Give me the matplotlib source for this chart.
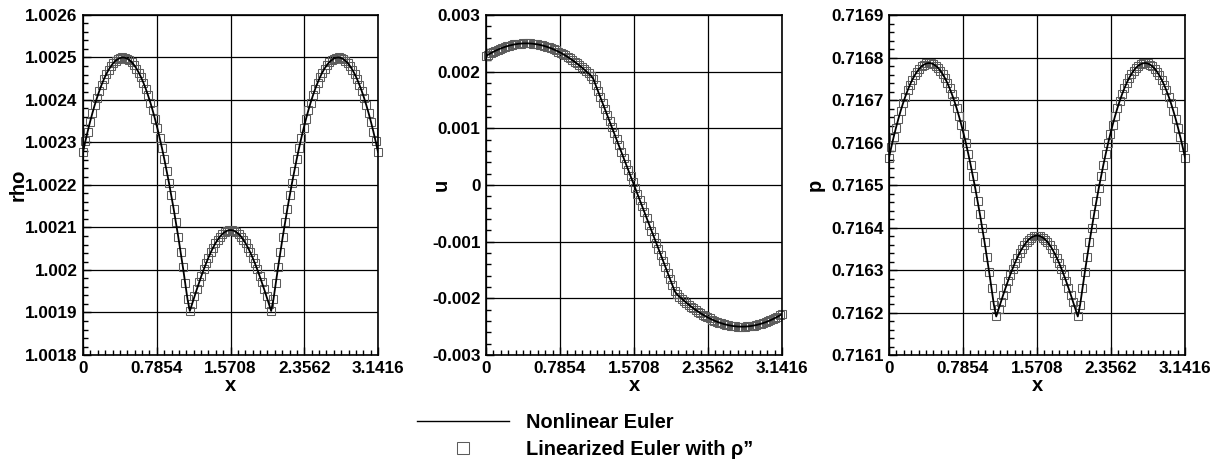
import numpy as np
import matplotlib
matplotlib.use("Agg")
import matplotlib.pyplot as plt
from matplotlib.ticker import FixedLocator, AutoMinorLocator

plt.rcParams['font.family'] = ['Liberation Sans', 'DejaVu Sans']
plt.rcParams['font.weight'] = 'bold'

# ---------------- data ----------------
x_start, x_end = 0.0, 3.1416

rho = [
    1.0022776, 1.0023024, 1.0023258, 1.0023478, 1.0023683, 1.0023874, 1.0024050, 1.0024211,
    1.0024358, 1.0024490, 1.0024607, 1.0024708, 1.0024795, 1.0024866, 1.0024923, 1.0024964,
    1.0024989, 1.0025000, 1.0024995, 1.0024975, 1.0024939, 1.0024888, 1.0024823, 1.0024741,
    1.0024645, 1.0024534, 1.0024407, 1.0024266, 1.0024110, 1.0023939, 1.0023753, 1.0023553,
    1.0023339, 1.0023110, 1.0022867, 1.0022610, 1.0022339, 1.0022055, 1.0021757, 1.0021446,
    1.0021121, 1.0020784, 1.0020434, 1.0020072, 1.0019697, 1.0019310, 1.0019037, 1.0019209,
    1.0019379, 1.0019546, 1.0019708, 1.0019866, 1.0020016, 1.0020158, 1.0020292, 1.0020415,
    1.0020527, 1.0020627, 1.0020714, 1.0020788, 1.0020847, 1.0020893, 1.0020923, 1.0020938,
    1.0020938, 1.0020923, 1.0020893, 1.0020847, 1.0020788, 1.0020714, 1.0020627, 1.0020527,
    1.0020415, 1.0020292, 1.0020158, 1.0020016, 1.0019866, 1.0019708, 1.0019546, 1.0019379,
    1.0019209, 1.0019037, 1.0019310, 1.0019697, 1.0020072, 1.0020434, 1.0020784, 1.0021121,
    1.0021446, 1.0021757, 1.0022055, 1.0022339, 1.0022610, 1.0022867, 1.0023110, 1.0023339,
    1.0023553, 1.0023753, 1.0023939, 1.0024110, 1.0024266, 1.0024407, 1.0024534, 1.0024645,
    1.0024741, 1.0024823, 1.0024888, 1.0024939, 1.0024975, 1.0024995, 1.0025000, 1.0024989,
    1.0024964, 1.0024923, 1.0024866, 1.0024795, 1.0024708, 1.0024607, 1.0024490, 1.0024358,
    1.0024211, 1.0024050, 1.0023874, 1.0023683, 1.0023478, 1.0023258, 1.0023024, 1.0022776,
]

u = [
    0.0022776, 0.0023024, 0.0023258, 0.0023478, 0.0023683, 0.0023874, 0.0024050, 0.0024211,
    0.0024358, 0.0024490, 0.0024607, 0.0024708, 0.0024795, 0.0024866, 0.0024923, 0.0024964,
    0.0024989, 0.0025000, 0.0024995, 0.0024975, 0.0024939, 0.0024888, 0.0024823, 0.0024741,
    0.0024645, 0.0024534, 0.0024407, 0.0024266, 0.0024110, 0.0023939, 0.0023753, 0.0023553,
    0.0023339, 0.0023110, 0.0022867, 0.0022610, 0.0022339, 0.0022055, 0.0021757, 0.0021446,
    0.0021121, 0.0020784, 0.0020434, 0.0020072, 0.0019697, 0.0019310, 0.0018769, 0.0017696,
    0.0016624, 0.0015551, 0.0014479, 0.0013406, 0.0012334, 0.0011261, 0.0010188, 0.0009116,
    0.0008043, 0.0006971, 0.0005898, 0.0004825, 0.0003753, 0.0002680, 0.0001608, 0.0000535,
    -0.0000535, -0.0001608, -0.0002680, -0.0003753, -0.0004825, -0.0005898, -0.0006971, -0.0008043,
    -0.0009116, -0.0010188, -0.0011261, -0.0012334, -0.0013406, -0.0014479, -0.0015551, -0.0016624,
    -0.0017696, -0.0018769, -0.0019310, -0.0019697, -0.0020072, -0.0020434, -0.0020784, -0.0021121,
    -0.0021446, -0.0021757, -0.0022055, -0.0022339, -0.0022610, -0.0022867, -0.0023110, -0.0023339,
    -0.0023553, -0.0023753, -0.0023939, -0.0024110, -0.0024266, -0.0024407, -0.0024534, -0.0024645,
    -0.0024741, -0.0024823, -0.0024888, -0.0024939, -0.0024975, -0.0024995, -0.0025000, -0.0024989,
    -0.0024964, -0.0024923, -0.0024866, -0.0024795, -0.0024708, -0.0024607, -0.0024490, -0.0024358,
    -0.0024211, -0.0024050, -0.0023874, -0.0023683, -0.0023478, -0.0023258, -0.0023024, -0.0022776,
]

p = [
    0.7165646, 0.7165894, 0.7166128, 0.7166348, 0.7166553, 0.7166744, 0.7166920, 0.7167081,
    0.7167228, 0.7167360, 0.7167477, 0.7167578, 0.7167665, 0.7167736, 0.7167793, 0.7167834,
    0.7167859, 0.7167870, 0.7167865, 0.7167845, 0.7167809, 0.7167758, 0.7167693, 0.7167611,
    0.7167515, 0.7167404, 0.7167277, 0.7167136, 0.7166980, 0.7166809, 0.7166623, 0.7166423,
    0.7166209, 0.7165980, 0.7165737, 0.7165480, 0.7165209, 0.7164925, 0.7164627, 0.7164316,
    0.7163991, 0.7163654, 0.7163304, 0.7162942, 0.7162567, 0.7162180, 0.7161907, 0.7162079,
    0.7162249, 0.7162416, 0.7162578, 0.7162736, 0.7162886, 0.7163028, 0.7163162, 0.7163285,
    0.7163397, 0.7163497, 0.7163584, 0.7163658, 0.7163717, 0.7163763, 0.7163793, 0.7163808,
    0.7163808, 0.7163793, 0.7163763, 0.7163717, 0.7163658, 0.7163584, 0.7163497, 0.7163397,
    0.7163285, 0.7163162, 0.7163028, 0.7162886, 0.7162736, 0.7162578, 0.7162416, 0.7162249,
    0.7162079, 0.7161907, 0.7162180, 0.7162567, 0.7162942, 0.7163304, 0.7163654, 0.7163991,
    0.7164316, 0.7164627, 0.7164925, 0.7165209, 0.7165480, 0.7165737, 0.7165980, 0.7166209,
    0.7166423, 0.7166623, 0.7166809, 0.7166980, 0.7167136, 0.7167277, 0.7167404, 0.7167515,
    0.7167611, 0.7167693, 0.7167758, 0.7167809, 0.7167845, 0.7167865, 0.7167870, 0.7167859,
    0.7167834, 0.7167793, 0.7167736, 0.7167665, 0.7167578, 0.7167477, 0.7167360, 0.7167228,
    0.7167081, 0.7166920, 0.7166744, 0.7166553, 0.7166348, 0.7166128, 0.7165894, 0.7165646,
]

x_ticks = [0.0, 0.7854, 1.5708, 2.3562, 3.1416]
x_tick_labels = ['0', '0.7854', '1.5708', '2.3562', '3.1416']

rho_ticks = [1.0018, 1.0019, 1.0020, 1.0021, 1.0022, 1.0023, 1.0024, 1.0025, 1.0026]
rho_tick_labels = ['1.0018', '1.0019', '1.002', '1.0021', '1.0022', '1.0023', '1.0024', '1.0025', '1.0026']
u_ticks = [-0.003, -0.002, -0.001, 0.0, 0.001, 0.002, 0.003]
u_tick_labels = ['-0.003', '-0.002', '-0.001', '0', '0.001', '0.002', '0.003']
p_ticks = [0.7161, 0.7162, 0.7163, 0.7164, 0.7165, 0.7166, 0.7167, 0.7168, 0.7169]
p_tick_labels = ['0.7161', '0.7162', '0.7163', '0.7164', '0.7165', '0.7166', '0.7167', '0.7168', '0.7169']

series_names = ['Nonlinear Euler', 'Linearized Euler with \u03c1\u201d']
y_names = ['rho', 'u', 'p']

# ---------------- figure ----------------
W, H = 1224, 459
fig = plt.figure(figsize=(W / 100, H / 100), dpi=100)

panels = [
    (83, 295, rho, rho_ticks, rho_tick_labels, y_names[0], -0.22),
    (486, 296, u, u_ticks, u_tick_labels, y_names[1], -0.150),
    (889, 296, p, p_ticks, p_tick_labels, y_names[2], -0.250),
]
top_px, bot_px = 15, 355

xs = np.linspace(x_start, np.pi, len(rho))

line_handle = None
marker_handle = None
for left, width, yv, yt, ytl, yname, lab_x in panels:
    ax = fig.add_axes([left / W, 1 - bot_px / H, width / W, (bot_px - top_px) / H])
    mk, = ax.plot(xs, yv, linestyle='none', marker='s', markersize=5.2,
                  markerfacecolor='none', markeredgecolor='#5c5c5c',
                  markeredgewidth=0.75, zorder=2, clip_on=False)
    ln, = ax.plot(xs, yv, color='black', linewidth=1.3, zorder=3)
    line_handle, marker_handle = ln, mk
    ax.set_xlim(x_start, x_end)
    ax.set_ylim(yt[0], yt[-1])
    ax.xaxis.set_major_locator(FixedLocator(x_ticks))
    ax.set_xticklabels(x_tick_labels)
    ax.yaxis.set_major_locator(FixedLocator(yt))
    ax.set_yticklabels(ytl)
    ax.xaxis.set_minor_locator(AutoMinorLocator(10))
    ax.yaxis.set_minor_locator(AutoMinorLocator(5))
    ax.tick_params(which='both', direction='in', top=False, right=False,
                   labelsize=12.3, width=1.0, color='black')
    ax.tick_params(which='major', length=6, pad=4)
    ax.tick_params(which='minor', length=3.6)
    for lbl in ax.get_xticklabels() + ax.get_yticklabels():
        lbl.set_fontweight('bold')
    ax.grid(True, which='major', color='black', linewidth=0.9)
    ax.set_axisbelow(True)
    for s in ax.spines.values():
        s.set_linewidth(1.2)
        s.set_color('black')
    ax.set_xlabel('x', fontsize=14.5, fontweight='bold', va='center')
    ax.xaxis.set_label_coords(0.5, -0.090)
    ax.set_ylabel(yname, fontsize=14.5, fontweight='bold', va='center')
    ax.yaxis.set_label_coords(lab_x, 0.5)

leg = fig.legend([line_handle, marker_handle], series_names,
                 loc='upper left', bbox_to_anchor=(417 / W, 1 - 413 / H),
                 frameon=False, prop={'family': ['Liberation Sans', 'DejaVu Sans'],
                                      'weight': 'bold', 'size': 14.4},
                 handlelength=4.6, handletextpad=0.85, labelspacing=0.42,
                 borderpad=0, borderaxespad=0, markerscale=1.7)
for h in leg.legend_handles:
    h.set_linewidth(1.0)

fig.savefig('out.png', dpi=100)
